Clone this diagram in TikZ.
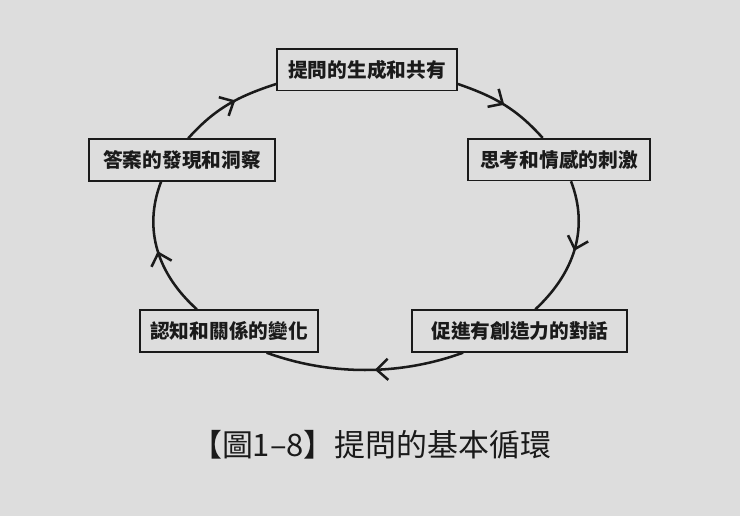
\documentclass[tikz,border=0pt]{standalone}
\usepackage{fontspec}
\setmainfont{Noto Sans CJK TC}
\usetikzlibrary{arrows.meta,decorations.markings,positioning}
\definecolor{paper}{RGB}{221,221,221}
\definecolor{ink}{RGB}{26,26,26}
\tikzset
{
    stage/.style   = {rectangle, draw=ink, line width=1.25pt, fill=paper, minimum height=1.04cm, inner xsep=0.25cm, text=ink, font=\fontsize{14}{16}\selectfont\bfseries},
    flow/.style    = {draw=ink, line width=1.8pt, postaction={decorate}, decoration={markings, mark=at position #1 with {\arrow{Straight Barb[length=8pt,width=15pt]}}}},
    flow/.default  = 0.5,
    caption/.style = {text=ink, font=\fontsize{22}{26}\selectfont}
}

\begin{document}
\begin{tikzpicture}
   \path[fill=paper] (0, 0) rectangle (18.5, -12.9);

   \node (top) [stage, minimum width=4.5cm]   at (9.175, -1.74)   {提問的生成和共有};
   \node (ru)  [stage, minimum width=4.55cm]  at (13.975, -3.99)  {思考和情感的刺激};
   \node (rl)  [stage, text width=4.45cm, align=right, inner xsep=0.46cm] at (12.99, -8.275) {促進有創造力的對話};
   \node (ll)  [stage, minimum width=4.45cm]  at (5.725, -8.275)  {認知和關係的變化};
   \node (lu)  [stage, minimum width=4.65cm]  at (4.55, -4.0)     {答案的發現和洞察};

   \node (cap) [caption]                      at (9.28, -11.13)   {【圖1–8】提問的基本循環};

   \path
      (top.-9)  edge[flow, out=-19, in=132]                    (ru.127)
      (ru.-61)  edge[flow, out=-69, in=43]                     (rl.54)
      (rl.201)  edge[flow=0.45, out=-160, in=-20, looseness=0.88] (ll.-30)
      (ll.146)  edge[flow, out=138, in=-111]                   (lu.226)
      (lu.74)   edge[flow=0.58, out=48, in=-162]               (top.189);
\end{tikzpicture}
\end{document}
